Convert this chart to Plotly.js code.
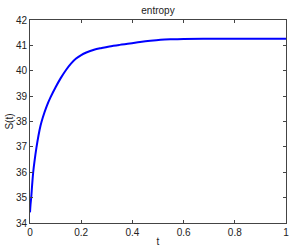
<!DOCTYPE html>
<html>
<head>
<meta charset="utf-8">
<script src="https://cdn.plot.ly/plotly-3.0.1.min.js"></script>
<style>html,body{margin:0;padding:0;background:#fff;}#chart{width:291px;height:249px;}</style>
</head>
<body>
<div id="chart"></div>
<script>
var tValues = [0, 0.002, 0.0047, 0.008, 0.0125, 0.018, 0.025, 0.033, 0.041, 0.05, 0.065, 0.08, 0.1, 0.12, 0.14, 0.16, 0.18, 0.2, 0.22, 0.25, 0.28, 0.31, 0.35, 0.39, 0.43, 0.47, 0.51, 0.55, 0.6, 0.7, 0.8, 0.9, 1.0];
var sValues = [34.42, 34.72, 35, 35.45, 36, 36.46, 36.96, 37.44, 37.83, 38.16, 38.6, 38.95, 39.35, 39.71, 40.02, 40.28, 40.48, 40.62, 40.72, 40.83, 40.9, 40.96, 41.02, 41.07, 41.13, 41.18, 41.22, 41.24, 41.255, 41.26, 41.26, 41.26, 41.26];
var xTicks = [0, 0.2, 0.4, 0.6, 0.8, 1];
var xTickLabels = ['0', '0.2', '0.4', '0.6', '0.8', '1'];
var yTicks = [34, 35, 36, 37, 38, 39, 40, 41, 42];
var yTickLabels = ['34', '35', '36', '37', '38', '39', '40', '41', '42'];

var font = {family: 'Liberation Sans, Arial, sans-serif', size: 10, color: '#222'};
var trace = {
  x: tValues, y: sValues, type: 'scatter', mode: 'lines',
  line: {color: '#0000ff', width: 2, shape: 'spline', smoothing: 1},
  hoverinfo: 'skip'
};
var axisCommon = {
  showline: true, linecolor: '#444', linewidth: 1, mirror: 'ticks',
  ticks: 'inside', ticklen: 3, tickcolor: '#444', tickwidth: 1,
  showgrid: false, zeroline: false, tickfont: font, fixedrange: true
};
var layout = {
  width: 291, height: 249,
  margin: {l: 30, r: 5, t: 20, b: 26, pad: 0},
  paper_bgcolor: '#fff', plot_bgcolor: '#fff',
  showlegend: false,
  font: font,
  title: {text: 'entropy', font: font, x: 0.5, xref: 'paper', y: 1 - 10/249, yref: 'container', yanchor: 'middle'},
  xaxis: Object.assign({}, axisCommon, {
    range: [0, 1], tickvals: xTicks, ticktext: xTickLabels,
    title: {text: 't', font: font, standoff: 0}
  }),
  yaxis: Object.assign({}, axisCommon, {
    range: [34, 42], tickvals: yTicks, ticktext: yTickLabels,
    title: {text: 'S(t)', font: font, standoff: 0}
  })
};
Plotly.newPlot('chart', [trace], layout, {displayModeBar: false, staticPlot: true});
</script>
</body>
</html>
